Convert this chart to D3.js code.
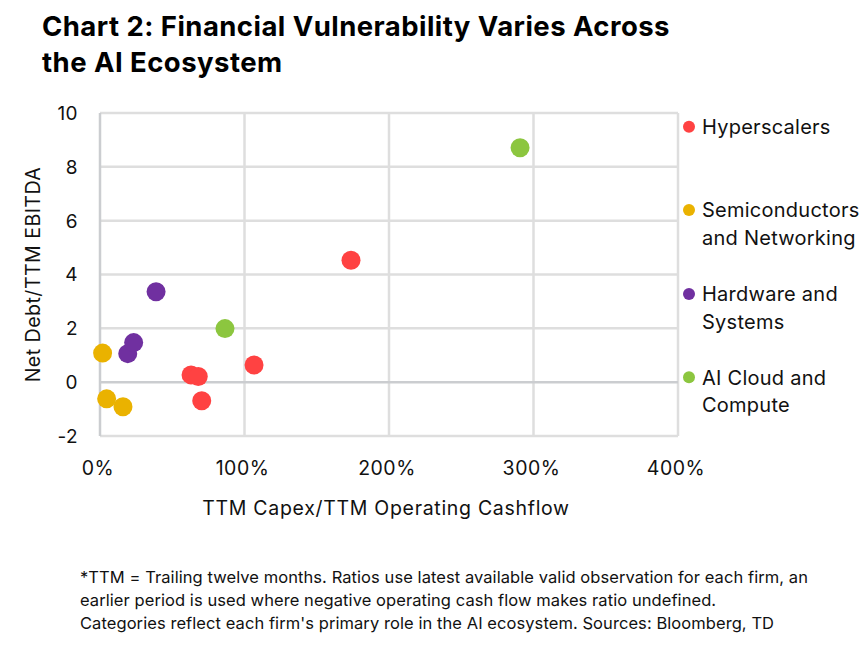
<!DOCTYPE html>
<html>
<head>
<meta charset="utf-8">
<script src="https://cdn.jsdelivr.net/npm/d3@7/dist/d3.min.js"></script>
<style>
  html, body { margin: 0; padding: 0; background: #fff; }
  svg { display: block; font-family: Inter, "Open Sans", sans-serif; }
</style>
</head>
<body>
<div id="chart"></div>
<script>
// Series (x = capex/OCF as a ratio, y = net debt/EBITDA)
const CATEGORIES = ['Hyperscalers', 'Semiconductors and Networking', 'Hardware and Systems', 'AI Cloud and Compute'];
const LEGEND_LINES = [['Hyperscalers'], ['Semiconductors', 'and Networking'], ['Hardware and', 'Systems'], ['AI Cloud and', 'Compute']];
const COLORS = ['#FF4242', '#EAB200', '#7030A0', '#8CC63F'];

const hyperX = [1.737, 0.630, 0.680, 0.704, 1.066];
const hyperY = [4.53, 0.27, 0.21, -0.69, 0.64];
const semiX  = [0.018, 0.046, 0.159];
const semiY  = [1.08, -0.62, -0.91];
const hardX  = [0.388, 0.192, 0.233];
const hardY  = [3.36, 1.06, 1.47];
const cloudX = [0.865, 2.907];
const cloudY = [1.99, 8.71];

const X_TICKS = [0, 1, 2, 3, 4];
const Y_TICKS = [-2, 0, 2, 4, 6, 8, 10];

const TITLE = ['Chart 2: Financial Vulnerability Varies Across', 'the AI Ecosystem'];
const X_LABEL = 'TTM Capex/TTM Operating Cashflow';
const Y_LABEL = 'Net Debt/TTM EBITDA';
const NOTES = [
  '*TTM = Trailing twelve months. Ratios use latest available valid observation for each firm, an',
  'earlier period is used where negative operating cash flow makes ratio undefined.',
  "Categories reflect each firm's primary role in the AI ecosystem. Sources: Bloomberg, TD",
];

const W = 868, H = 648;
const P = { left: 100, right: 678, top: 113, bottom: 436 };

const svg = d3.select('#chart').append('svg').attr('width', W).attr('height', H);

// Title
svg.append('g').selectAll('text')
  .data(TITLE)
  .join('text')
  .attr('x', 42).attr('y', (d, i) => 36 + i * 36)
  .attr('font-size', 27.5).attr('font-weight', 700).attr('letter-spacing', 0.45).attr('fill', '#000')
  .text(d => d);

const x = d3.scaleLinear().domain([0, 4]).range([P.left, P.right]);
const y = d3.scaleLinear().domain([-2, 10]).range([P.bottom, P.top]);

const grid = svg.append('g');
// vertical gridlines (0 is the axis, drawn later)
grid.selectAll('.vx')
  .data(X_TICKS.filter(t => t !== 0))
  .join('line')
  .attr('x1', d => x(d)).attr('x2', d => x(d))
  .attr('y1', P.top).attr('y2', P.bottom)
  .attr('stroke', '#dedede').attr('stroke-width', 2.5);
grid.selectAll('.hy')
  .data(Y_TICKS.filter(t => t !== 0))
  .join('line')
  .attr('x1', P.left).attr('x2', P.right)
  .attr('y1', d => y(d)).attr('y2', d => y(d))
  .attr('stroke', '#dedede').attr('stroke-width', 2.5);
// zero line + left axis, a bit darker
grid.append('line')
  .attr('x1', P.left).attr('x2', P.right).attr('y1', y(0)).attr('y2', y(0))
  .attr('stroke', '#cbcdd0').attr('stroke-width', 2.5);
grid.append('line')
  .attr('x1', x(0)).attr('x2', x(0)).attr('y1', P.top).attr('y2', P.bottom)
  .attr('stroke', '#cbcdd0').attr('stroke-width', 2.5);

// Tick labels
svg.append('g').selectAll('text')
  .data(Y_TICKS)
  .join('text')
  .attr('x', 78).attr('y', d => y(d)).attr('dy', '0.36em')
  .attr('text-anchor', 'end').attr('font-size', 19).attr('letter-spacing', 0.4).attr('fill', '#111')
  .text(d => d);
svg.append('g').selectAll('text')
  .data(X_TICKS)
  .join('text')
  .attr('x', d => x(d) - 2).attr('y', 475)
  .attr('text-anchor', 'middle').attr('font-size', 19.5).attr('letter-spacing', 0.5).attr('fill', '#111')
  .text(d3.format('.0%'));

// Axis titles
svg.append('text')
  .attr('x', (P.left + P.right) / 2 - 3).attr('y', 515)
  .attr('text-anchor', 'middle').attr('font-size', 19.5).attr('letter-spacing', 0.7).attr('fill', '#111')
  .text(X_LABEL);
svg.append('text')
  .attr('transform', `translate(40, ${(P.top + P.bottom) / 2}) rotate(-90)`)
  .attr('text-anchor', 'middle').attr('font-size', 19.5).attr('letter-spacing', 0.5).attr('fill', '#111')
  .text(Y_LABEL);

// Points
const series = [
  { xs: hyperX, ys: hyperY },
  { xs: semiX,  ys: semiY },
  { xs: hardX,  ys: hardY },
  { xs: cloudX, ys: cloudY },
];
const points = series.flatMap((s, ci) => s.xs.map((v, i) => ({ x: v, y: s.ys[i], ci })));
svg.append('g').selectAll('circle')
  .data(points)
  .join('circle')
  .attr('cx', d => x(d.x)).attr('cy', d => y(d.y)).attr('r', 9.5)
  .attr('fill', d => COLORS[d.ci]);

// Legend
const LEG_Y = [126.7, 210, 294, 377.3];
const leg = svg.append('g').selectAll('g')
  .data(CATEGORIES)
  .join('g')
  .attr('transform', (d, i) => `translate(689, ${LEG_Y[i]})`);
leg.append('circle').attr('r', 6).attr('fill', (d, i) => COLORS[i]);
leg.each(function (d, i) {
  d3.select(this).selectAll('text')
    .data(LEGEND_LINES[i])
    .join('text')
    .attr('x', 13).attr('y', (t, j) => j * 28).attr('dy', '0.36em')
    .attr('font-size', 20).attr('letter-spacing', 0.25).attr('fill', '#111')
    .text(t => t);
});

// Footnote
svg.append('g').selectAll('text')
  .data(NOTES)
  .join('text')
  .attr('x', 80).attr('y', (d, i) => 583 + i * 23)
  .attr('font-size', 16.5).attr('letter-spacing', 0.07).attr('fill', '#111')
  .text(d => d);
</script>
</body>
</html>
